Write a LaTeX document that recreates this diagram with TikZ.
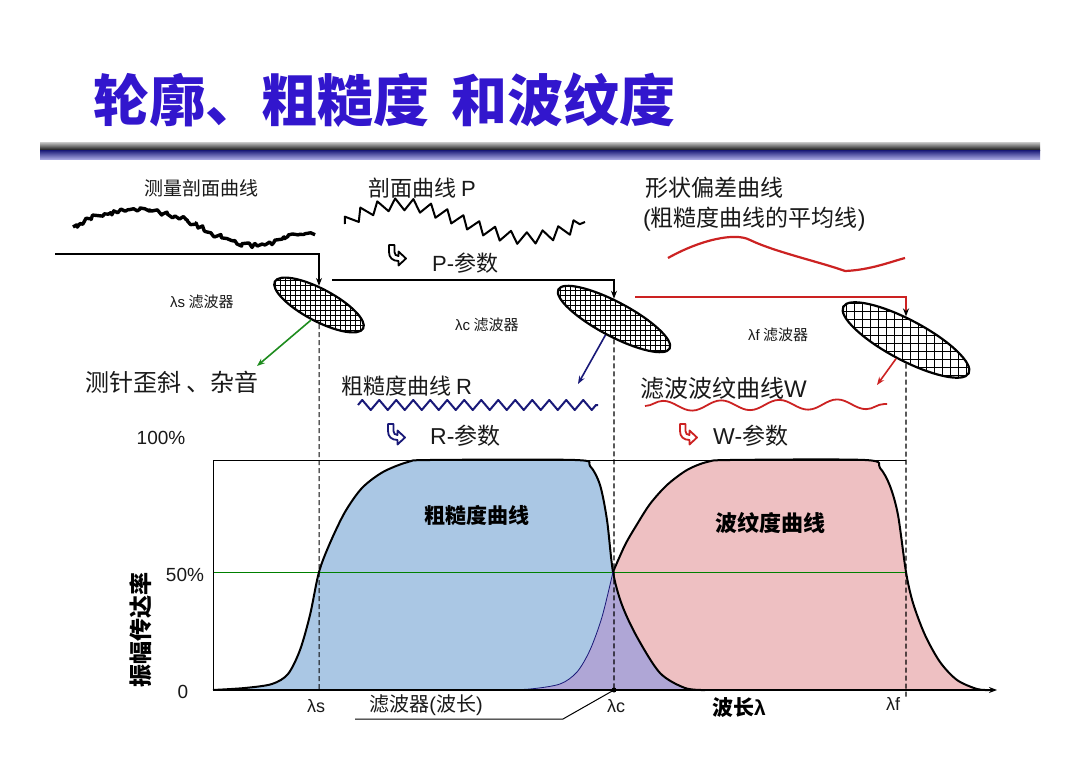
\documentclass[tikz,border=0pt]{standalone}
\usepackage{fontspec}
\setmainfont{Liberation Sans}
\newfontfamily\cjk{Noto Sans CJK SC}
\usetikzlibrary{arrows.meta,decorations.pathmorphing,shapes.geometric}
\definecolor{titleblue}{RGB}{50,22,205}
\definecolor{navy}{RGB}{25,25,120}
\definecolor{myred}{RGB}{204,34,34}
\definecolor{mygreen}{RGB}{30,140,30}
\definecolor{bfill}{RGB}{170,199,228}
\definecolor{pfill}{RGB}{238,192,194}
\definecolor{ofill}{RGB}{175,166,214}
\definecolor{barblue}{RGB}{40,40,130}
\definecolor{barlight}{RGB}{180,180,235}
\begin{document}
\begin{tikzpicture}[x=1pt,y=-1pt,
  lbl/.style={font=\cjk\fontsize{#1}{#1}\selectfont, text=black!90, inner sep=0},
  blbl/.style={font=\cjk\bfseries\fontsize{#1}{#1}\selectfont, text=black, inner sep=0},
  filt/.style={ellipse, draw=black, line width=2.2, inner sep=0, rotate=-28},
  arr/.style={-{Stealth[length=8,width=6]}},
  hookarr/.pic={\draw[line width=1.8, fill=white, line join=round] (0,0) -- (5.5,0) -- (5.5,7) .. controls (5.5,9.5) and (7,11) .. (9.5,11) -- (9.5,6.5) -- (17,13.5) -- (9.5,20.5) -- (9.5,16) .. controls (3.5,16) and (0,12.5) .. (0,7) -- cycle;}
]
\useasboundingbox (0,0) rectangle (1080,770);
\fill[white] (0,0) rectangle (1080,770);

% title and bar
\node[anchor=west, text=titleblue, font=\cjk\bfseries\fontsize{56}{62}\selectfont, inner sep=0] (title) at (93,100) {轮廓、粗糙度\hspace{22pt}和波纹度};
\shade[top color=black!30, bottom color=black] (40,143) rectangle (1040,151);
\shade[top color=barblue, bottom color=barlight] (40,151) rectangle (1040,160);

% top curves
\node[lbl=19] (t1) at (201,188) {测量剖面曲线};
\pgfmathsetseed{5}
\draw[line width=3.4, line join=round, decorate, decoration={random steps, segment length=3, amplitude=2.6}]
  (73,227) .. controls (100,210) and (140,205) .. (175,216) .. controls (210,228) and (230,250) .. (262,244) .. controls (288,240) and (300,228) .. (315,235);
\node[lbl=22, anchor=west] (t2) at (368,188) {剖面曲线 {\rmfamily P}};
\draw[line width=2, line join=round, decorate, decoration={zigzag, segment length=17, amplitude=6}]
  (345,224) .. controls (370,205) and (400,200) .. (425,208) .. controls (470,222) and (500,240) .. (530,238) .. controls (555,236) and (570,228) .. (585,222);
\pic[black] at (389,245) {hookarr};
\node[lbl=22, anchor=west] (t5) at (432,263) {{\rmfamily P-}参数};
\node[lbl=23, anchor=west] (t3) at (645,188) {形状偏差曲线};
\node[lbl=23, anchor=west] (t4) at (643,219) {{\rmfamily (}粗糙度曲线的平均线{\rmfamily )}};
\draw[myred, line width=2.2] (668,258) .. controls (700,240) and (735,232) .. (750,240) .. controls (775,252) and (820,262) .. (845,271) .. controls (870,270) and (890,262) .. (905,258);

% filters (ellipses)
\begin{scope}
\clip[rotate around={-28:(319,305)}] (319,305) ellipse [x radius=50, y radius=16];
\fill[white] (260,275) rectangle (380,335);
\foreach \g in {260,265,...,380} \draw[line width=0.6] (\g,275) -- (\g,335);
\foreach \g in {275,280,...,335} \draw[line width=0.6] (260,\g) -- (380,\g);
\end{scope}
\node[filt, minimum width=100, minimum height=32] (fs) at (319,305) {};
\begin{scope}
\clip[rotate around={-28:(614,319)}] (614,319) ellipse [x radius=63, y radius=17];
\fill[white] (540,280) rectangle (690,360);
\foreach \g in {540,545,...,690} \draw[line width=0.6] (\g,280) -- (\g,360);
\foreach \g in {280,285,...,360} \draw[line width=0.6] (540,\g) -- (690,\g);
\end{scope}
\node[filt, minimum width=126, minimum height=34] (fc) at (614,319) {};
\begin{scope}
\clip[rotate around={-28:(906,340)}] (906,340) ellipse [x radius=71, y radius=20];
\fill[white] (830,295) rectangle (985,385);
\foreach \g in {830,838,...,990} \draw[line width=0.7] (\g,295) -- (\g,385);
\foreach \g in {295,303,...,385} \draw[line width=0.7] (830,\g) -- (985,\g);
\end{scope}
\node[filt, minimum width=142, minimum height=40] (ff) at (906,340) {};

\node[lbl=15, anchor=west] (t6) at (170,302) {{\rmfamily λs} 滤波器};
\node[lbl=15, anchor=west] (t7) at (455,325) {{\rmfamily λc} 滤波器};
\node[lbl=15, anchor=west] (t8) at (748,335) {{\rmfamily λf} 滤波器};

% flow lines
\coordinate (in) at (55,254);
\coordinate (p1) at (332,280);
\coordinate (p2) at (635,297);
\draw[arr, line width=1.3] (in) -| (fs);
\draw[arr, line width=1.5] (p1) -| (fc);
\draw[myred, line width=1.5, -{Stealth[length=8,width=6,color=black]}] (p2) -| (ff);

\coordinate (gt) at (257,366);
\coordinate (nt) at (578,384);
\coordinate (rt) at (877,385);
\draw[arr, mygreen, line width=1.6] (fs.south) -- (gt);
\draw[arr, navy, line width=1.6] (fc.south) -- (nt);
\draw[arr, myred, line width=1.6] (ff.south) -- (rt);

% middle labels and curves
\node[lbl=24, anchor=west] (t9) at (85,382) {测针歪斜 、杂音};
\node[lbl=22, anchor=west] (t10) at (341,386) {粗糙度曲线 {\rmfamily R}};
\draw[navy, line width=2, line join=round, decorate, decoration={zigzag, segment length=17, amplitude=5}] (358,405) -- (598,405);
\pic[navy] at (388,424) {hookarr};
\node[lbl=23, anchor=west] (t12) at (430,436) {{\rmfamily R-}参数};
\node[lbl=24, anchor=west] (t11) at (640,388) {滤波波纹曲线{\rmfamily W}};
\draw[myred, line width=1.8, decorate, decoration={snake, segment length=58, amplitude=5}] (645,406) -- (887,404);
\pic[myred] at (680,424) {hookarr};
\node[lbl=23, anchor=west] (t13) at (713,436) {{\rmfamily W-}参数};

% chart
\coordinate (o) at (213,690);
\coordinate (tl) at (213,460);
\coordinate (tr) at (906,460);
\coordinate (ml) at (213,572);
\coordinate (mr) at (906,572);
\coordinate (axend) at (997,690);
\coordinate (ls) at (319,690);
\coordinate (lc) at (614,690);
\coordinate (lf) at (906,698);

\fill[pfill] plot[smooth] coordinates {(500,690) (530,689) (560,684) (577,672) (590,650) (602,617) (613,572) (625,545) (636,526) (650,504) (667,485) (687,470) (707,462) (730,460) (865,460) (880,468) (890,486) (898,515) (906,572) (913,603) (925,635) (940,662) (957,680) (977,689) (995,690)} -- cycle;
\fill[bfill] plot[smooth] coordinates {(213,690) (245,688) (272,684) (288,674) (300,650) (310,615) (319,572) (330,543) (345,512) (362,488) (383,472) (408,462) (430,460) (575,460) (590,466) (600,485) (607,520) (613,572) (622,605) (637,637) (660,673) (685,688) (705,690)} -- cycle;
\begin{scope}
\clip plot[smooth] coordinates {(213,690) (245,688) (272,684) (288,674) (300,650) (310,615) (319,572) (330,543) (345,512) (362,488) (383,472) (408,462) (430,460) (575,460) (590,466) (600,485) (607,520) (613,572) (622,605) (637,637) (660,673) (685,688) (705,690)} -- cycle;
\fill[ofill] plot[smooth] coordinates {(500,690) (530,689) (560,684) (577,672) (590,650) (602,617) (613,572) (625,545) (636,526) (650,504) (667,485) (687,470) (707,462) (730,460) (865,460) (880,468) (890,486) (898,515) (906,572) (913,603) (925,635) (940,662) (957,680) (977,689) (995,690)} -- cycle;
\end{scope}

\draw[green!50!black, line width=1] (ml) -- (mr);
\draw[line width=1] (o) -- (tl) -- (tr);

\draw[line width=2, line join=round] plot[smooth] coordinates {(213,690) (245,688) (272,684) (288,674) (300,650) (310,615) (319,572) (330,543) (345,512) (362,488) (383,472) (408,462) (430,460) (575,460) (590,466) (600,485) (607,520) (613,572) (622,605) (637,637) (660,673) (685,688) (705,690)};
\draw[navy, line width=0.8] plot[smooth] coordinates {(500,690) (530,689) (560,684) (577,672) (590,650) (602,617) (613,572)};
\draw[line width=2, line join=round] plot[smooth] coordinates {(613,572) (625,545) (636,526) (650,504) (667,485) (687,470) (707,462) (730,460) (865,460) (880,468) (890,486) (898,515) (906,572) (913,603) (925,635) (940,662) (957,680) (977,689) (990,690)};

\draw[dash pattern=on 5pt off 3pt, line width=1] (fs) -- (ls);
\draw[dash pattern=on 5pt off 3pt, line width=1.2] (fc) -- (lc);
\draw[dash pattern=on 5pt off 3pt, line width=1.2] (ff) -- (lf);
\draw[line width=1.6, -{Stealth[length=8,width=6]}] (o) -- (axend);
\fill (lc) circle (2.5);

\node[lbl=19] (p100) at (161,438) {\rmfamily 100\%};
\node[lbl=19] (p50) at (185,575) {\rmfamily 50\%};
\node[lbl=19] (p0) at (183,692) {\rmfamily 0};
\node[blbl=21] (c1) at (477,516) {粗糙度曲线};
\node[blbl=22] (c2) at (770,523) {波纹度曲线};
\node[blbl=23, rotate=90] (ylab) at (141,630) {振幅传达率};

\node[lbl=18] (lsl) at (316,706) {\rmfamily λs};
\node[lbl=20] (fw) at (426,705) {滤波器{\rmfamily (}波长{\rmfamily )}};
\node[lbl=18] (lcl) at (616,706) {\rmfamily λc};
\node[blbl=21] (wl) at (739,708) {波长{\rmfamily λ}};
\node[lbl=18] (lfl) at (893,704) {\rmfamily λf};
\coordinate (u1) at (355,719);
\coordinate (u2) at (563,719);
\draw[line width=1] (u1) -- (u2) -- (lc);
\end{tikzpicture}
\end{document}
